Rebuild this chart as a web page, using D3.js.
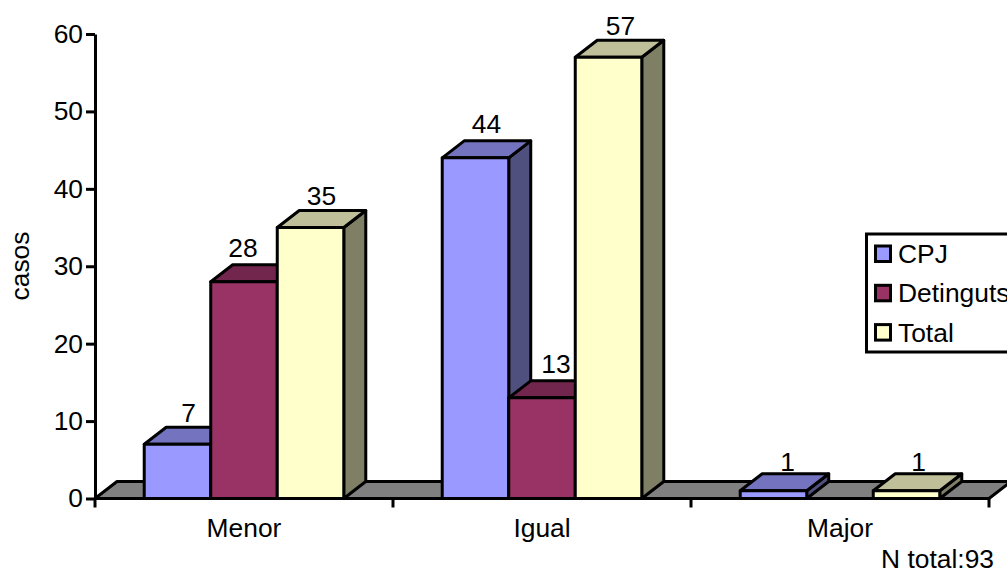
<!DOCTYPE html>
<html>
<head>
<meta charset="utf-8">
<script src="https://cdnjs.cloudflare.com/ajax/libs/d3/7.8.5/d3.min.js"></script>
<style>
html,body{margin:0;padding:0;background:#fff;overflow:hidden}
svg{display:block}
text{font-family:"Liberation Sans",Arial,sans-serif;fill:#000}
</style>
</head>
<body>
<svg id="chart" width="1007" height="574"></svg>
<script>
const categories = ["Menor", "Igual", "Major"];
const seriesNames = ["CPJ", "Detinguts", "Total"];
const cpj = [7, 44, 1];
const detinguts = [28, 13, 0];
const total = [35, 57, 1];
const yTicks = [0, 10, 20, 30, 40, 50, 60];

const frontColors = ["#9999FF", "#993366", "#FFFFCC"];
const topColors = ["#7373BF", "#73264D", "#BFBF99"];
const sideColors = ["#50507F", "#4D1933", "#7F7F66"];

const svg = d3.select("#chart");
const fontSize = 26.4;
const strokeW = 3;
const depth = {x: 22, y: 17};

const y = d3.scaleLinear().domain([0, 60]).range([498.5, 34]);
const x0 = d3.scaleBand().domain(categories).range([95, 989]);
const x1 = d3.scaleBand().domain(seriesNames)
  .range([0, x0.bandwidth()]).paddingOuter(0.74).paddingInner(0);

// Per-label placement tweaks, [dx, dy], so that neighbouring labels keep clear of each other
const labelNudges = {
  "Menor|CPJ": [0, 0], "Menor|Detinguts": [-12, -3], "Menor|Total": [0, -1],
  "Igual|CPJ": [0, -3], "Igual|Detinguts": [3, -3], "Igual|Total": [1, 0],
  "Major|CPJ": [3, 2], "Major|Total": [1, 2]
};

const lineGen = d3.line();
const face = (pts, fill) => svg.append("path")
  .attr("d", lineGen(pts) + "Z")
  .attr("fill", fill)
  .attr("stroke", "#000")
  .attr("stroke-width", strokeW)
  .attr("stroke-linejoin", "round");

// Floor of the 3D plot
face([
  [x0.range()[0], y(0)],
  [x0.range()[0] + depth.x, y(0) - depth.y],
  [x0.range()[1] + depth.x, y(0) - depth.y],
  [x0.range()[1], y(0)]
], "#808080");

// Bars, painted series by series so nearer faces overlap earlier ones
const seriesValues = [cpj, detinguts, total];
categories.forEach((cat, ci) => {
  seriesNames.forEach((name, si) => {
    const v = seriesValues[si][ci];
    if (v === 0) return;
    const l = x0(cat) + x1(name), r = l + x1.bandwidth();
    const t = y(v), b = y(0);
    face([[r, b], [r + depth.x, b - depth.y], [r + depth.x, t - depth.y], [r, t]], sideColors[si]);
    face([[l, t], [l + depth.x, t - depth.y], [r + depth.x, t - depth.y], [r, t]], topColors[si]);
    face([[l, t], [r, t], [r, b], [l, b]], frontColors[si]);
  });
});

// Value labels sit above the back edge of each bar
categories.forEach((cat, ci) => {
  seriesNames.forEach((name, si) => {
    const v = seriesValues[si][ci];
    if (v === 0) return;
    const [dx, dy] = labelNudges[cat + "|" + name];
    svg.append("text")
      .attr("x", x0(cat) + x1(name) + x1.bandwidth() / 2 + depth.x * 0.5 + dx)
      .attr("y", y(v) - depth.y - 5 + dy)
      .attr("text-anchor", "middle")
      .attr("font-size", fontSize)
      .text(v);
  });
});

// Axes
const yAxis = d3.axisLeft(y).tickValues(yTicks).tickSize(9).tickPadding(3).tickSizeOuter(0);
const gy = svg.append("g").attr("transform", "translate(95,0)").call(yAxis);
const xAxis = d3.axisBottom(x0).tickSize(0).tickPadding(20);
const gx = svg.append("g").attr("transform", `translate(0,${y(0)})`).call(xAxis);
gx.select(".domain").remove();
[gy, gx].forEach(g => {
  g.selectAll("text").attr("font-size", fontSize).attr("font-family", '"Liberation Sans",Arial,sans-serif').attr("fill", "#000");
  g.selectAll("line,.domain").attr("stroke", "#000").attr("stroke-width", strokeW);
});
gx.selectAll("text").attr("dy", "0.71em");

// Category separators hang below the baseline at band edges
const edges = categories.map(c => x0(c)).concat(x0.range()[1]);
svg.append("g").selectAll("line").data(edges).join("line")
  .attr("x1", d => d).attr("x2", d => d)
  .attr("y1", y(0)).attr("y2", y(0) + 9)
  .attr("stroke", "#000").attr("stroke-width", strokeW);

// Axis title
svg.append("text")
  .attr("transform", "translate(29,266) rotate(-90)")
  .attr("text-anchor", "middle")
  .attr("font-size", fontSize)
  .text("casos");

// Legend, running off the right edge of the canvas
const legend = svg.append("g");
legend.append("rect")
  .attr("x", 866.5).attr("y", 234).attr("width", 160).attr("height", 118)
  .attr("fill", "#fff").attr("stroke", "#000").attr("stroke-width", strokeW);
seriesNames.forEach((name, i) => {
  const cy = 254 + i * 39.3;
  legend.append("rect")
    .attr("x", 875.5).attr("y", cy - 8).attr("width", 15).attr("height", 15.5)
    .attr("fill", frontColors[i]).attr("stroke", "#000").attr("stroke-width", strokeW);
  legend.append("text")
    .attr("x", 898).attr("y", cy + 9)
    .attr("font-size", fontSize)
    .text(name);
});

// Sample size note
svg.append("text")
  .attr("x", 994).attr("y", 568)
  .attr("text-anchor", "end")
  .attr("font-size", fontSize)
  .text("N total:93");
</script>
</body>
</html>
